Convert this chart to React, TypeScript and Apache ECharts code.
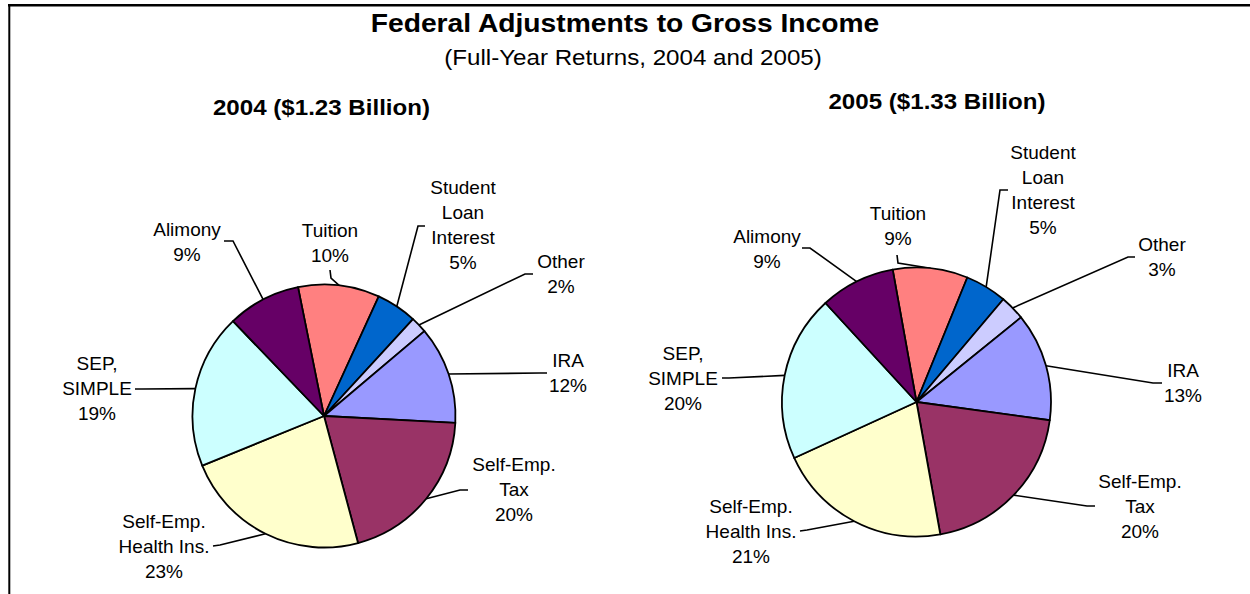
import React, { useEffect, useRef } from "react";
import * as echarts from "echarts";

// ---- Data ----
const TITLE = "Federal Adjustments to Gross Income";
const SUBTITLE = "(Full-Year Returns, 2004 and 2005)";
const PIE_TITLES = ["2004 ($1.23 Billion)", "2005 ($1.33 Billion)"];
const CATEGORIES = [
  "Tuition",
  "Student\nLoan\nInterest",
  "Other",
  "IRA",
  "Self-Emp.\nTax",
  "Self-Emp.\nHealth Ins.",
  "SEP,\nSIMPLE",
  "Alimony",
];
const VALUES_2004 = [10, 5, 2, 12, 20, 23, 19, 9];
const VALUES_2005 = [9, 5, 3, 13, 20, 21, 20, 9];
const COLORS = ["#FF8080", "#0066CC", "#CCCCFF", "#9999FF", "#993366", "#FFFFCC", "#CCFFFF", "#660066"];

// ---- Layout (label placement relative to each pie's centre) ----
const FONT = '"Liberation Sans", Arial, Helvetica, sans-serif';
const PIE1 = { cx: 324, cy: 416, r: 131.5, start: 101.4 };
const PIE2 = { cx: 916.5, cy: 402, r: 134.5, start: 100.2 };
// [labelX, labelY, elbowX, elbowY, endX, endY]
const LAYOUT_2004 = [
  [6, -173, 7, -138, 6, -146],
  [139, -191, 94, -190, 101, -190],
  [237, -142, 201, -142, 209, -142],
  [244, -43, 216, -43, 223, -43],
  [190, 73, 136, 74, 144, 74],
  [-160, 130, -104, 129, -111, 130],
  [-227, -28, -182, -27, -189, -27],
  [-137, -174, -91, -175, -100, -175],
];
const LAYOUT_2005 = [
  [-18.5, -176, -18.5, -139, -19.5, -147],
  [126.5, -212, 83.5, -212, 91.5, -212],
  [245.5, -145, 211.5, -145, 218.5, -145],
  [266.5, -19, 236.5, -19, 245.5, -19],
  [223.5, 104, 170.5, 104, 178.5, 104],
  [-165.5, 129, -109.5, 128, -116.5, 129],
  [-233.5, -24, -187.5, -24, -194.5, -24],
  [-149.5, -153, -106.5, -154, -114.5, -154],
];

function makeSeries(values: number[], pie: typeof PIE1, layout: number[][]) {
  return {
    type: "pie",
    center: [pie.cx, pie.cy],
    radius: pie.r,
    startAngle: pie.start,
    clockwise: true,
    avoidLabelOverlap: false,
    percentPrecision: 0,
    silent: true,
    emphasis: { disabled: true },
    data: CATEGORIES.map((name, i) => ({
      name,
      value: values[i],
      itemStyle: { color: COLORS[i] },
    })),
    itemStyle: { borderColor: "#000", borderWidth: 1.8 },
    label: {
      show: true,
      position: "outside",
      formatter: "{b}\n{d}%",
      color: "#000",
      fontSize: 19,
      lineHeight: 25,
      fontFamily: FONT,
    },
    labelLine: {
      show: true,
      length: 10,
      length2: 10,
      smooth: false,
      lineStyle: { color: "#000", width: 1.6 },
    },
    labelLayout: (params: any) => {
      const L = layout[params.dataIndex];
      const pts = params.labelLinePoints;
      const edge = pts && pts[0] ? pts[0] : [pie.cx, pie.cy];
      return {
        x: pie.cx + L[0],
        y: pie.cy + L[1],
        align: "center",
        verticalAlign: "middle",
        labelLinePoints: [edge, [pie.cx + L[2], pie.cy + L[3]], [pie.cx + L[4], pie.cy + L[5]]],
      };
    },
  };
}

function heading(text: string, x: number, y: number, size: number, bold: boolean, sx: number) {
  return {
    type: "text",
    x,
    y,
    scaleX: sx,
    style: {
      text,
      fontSize: size,
      fontWeight: bold ? "bold" : "normal",
      fontFamily: FONT,
      fill: "#000",
      align: "center",
      verticalAlign: "middle",
    },
  };
}

export default function App() {
  const ref = useRef<HTMLDivElement>(null);
  useEffect(() => {
    if (!ref.current) return;
    const chart = echarts.init(ref.current, undefined, { renderer: "svg" });
    chart.setOption({
      animation: false,
      backgroundColor: "#ffffff",
      graphic: [
        { type: "line", shape: { x1: 9.3, y1: 4, x2: 9.3, y2: 594 }, style: { stroke: "#000", lineWidth: 2 } },
        { type: "line", shape: { x1: 8, y1: 5.3, x2: 1250, y2: 5.3 }, style: { stroke: "#000", lineWidth: 2.5 } },
        heading(TITLE, 625, 23, 26, true, 1.086),
        heading(SUBTITLE, 633, 57.5, 22, false, 1.098),
        heading(PIE_TITLES[0], 321.5, 107, 22, true, 1.096),
        heading(PIE_TITLES[1], 937, 101, 22, true, 1.096),
      ],
      series: [makeSeries(VALUES_2004, PIE1, LAYOUT_2004), makeSeries(VALUES_2005, PIE2, LAYOUT_2005)],
    });
    return () => chart.dispose();
  }, []);
  return (
    <div
      ref={ref}
      style={{ position: "absolute", left: 0, top: 0, width: 1250, height: 594, background: "#fff" }}
    />
  );
}
